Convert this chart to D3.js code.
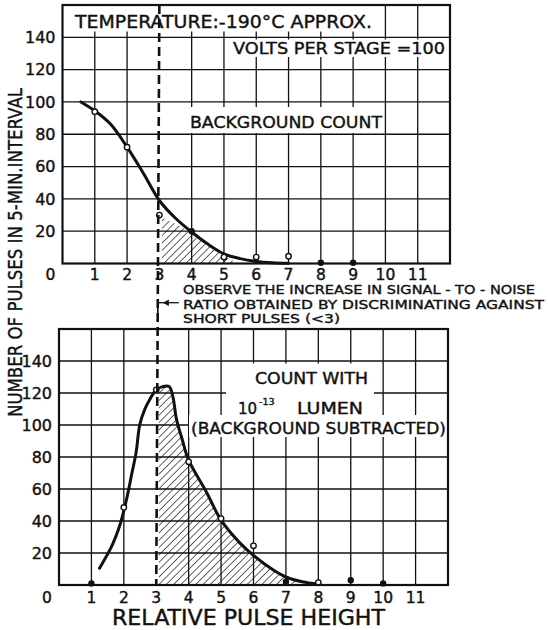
<!DOCTYPE html>
<html>
<head>
<meta charset="utf-8">
<script src="https://cdn.jsdelivr.net/npm/d3@7"></script>
<style>
  body { margin: 0; background: #fff; }
  svg text { font-family: "DejaVu Sans", sans-serif; fill: #111; stroke: #111; stroke-width: 0.4px; }
</style>
</head>
<body>
<div id="chart"></div>
<script>
// Tick values shared by both panels
const xTicks = [1, 2, 3, 4, 5, 6, 7, 8, 9, 10, 11];
const yTicks = [20, 40, 60, 80, 100, 120, 140];

// Upper panel: background count
const bgX = [1, 2, 3, 4, 5, 6, 7, 8, 9];
const bgY = [94, 72, 30, 20, 4, 4, 4.5, 0.5, 0.5];
const bgOpen = [1, 1, 1, 0, 1, 1, 1, 0, 0];
const bgCurveX = [0.57, 1, 1.5, 2, 2.5, 3, 3.5, 4, 4.5, 5, 5.5, 6, 6.5, 7];
const bgCurveY = [100, 94.5, 86, 72, 56, 39, 28, 19.5, 12, 6, 3, 1.3, 0.5, 0.2];
const bgHatchX = [3, 3.5, 4, 4.5, 5, 5.3, 5.5];
const bgHatchY = [29, 24.5, 19, 11, 5, 1.5, 0];

// Lower panel: count with 10^-13 lumen (background subtracted)
const lumX = [1, 2, 3, 4, 5, 6, 7, 8, 9, 10];
const lumY = [1, 48.5, 122, 77, 41.5, 24.5, 2, 1.5, 3, 1];
const lumOpen = [0, 1, 1, 1, 1, 1, 0, 1, 0, 0];
const lumCurveX = [1.25, 1.62, 1.83, 1.93, 2.1, 2.25, 2.38, 2.49, 2.65, 2.8, 3.0, 3.2, 3.4,
                   3.52, 3.62, 3.8, 4, 4.55, 5, 5.57, 6, 6.6, 7, 7.5, 8];
const lumCurveY = [10.5, 24, 34.5, 41, 55, 70, 83, 100, 110, 116, 122, 124, 124,
                   117, 104, 91, 78, 58, 40.5, 26.5, 18.5, 9.5, 5, 2, 0.5];
const lumHatchFrom = 3.08, lumHatchTo = 7.3;

const W = 548, H = 630;
const ink = "#111";

const svg = d3.select("#chart").append("svg")
    .attr("width", W).attr("height", H);

svg.append("rect").attr("width", W).attr("height", H).attr("fill", "#fff");

// hatch pattern
const defs = svg.append("defs");
defs.append("pattern")
    .attr("id", "hatch")
    .attr("patternUnits", "userSpaceOnUse")
    .attr("width", 5.2).attr("height", 5.2)
    .attr("patternTransform", "rotate(45)")
  .append("line")
    .attr("x1", 0).attr("y1", 0).attr("x2", 0).attr("y2", 5.2)
    .attr("stroke", ink).attr("stroke-width", 1.3);

function panel(opt) {
  const x = d3.scaleLinear().domain([0, 12]).range(opt.xr);
  const y = d3.scaleLinear().domain([0, 160]).range(opt.yr);
  const g = svg.append("g");

  // hatched area
  const clipId = "clip" + opt.id;
  defs.append("clipPath").attr("id", clipId).append("rect")
      .attr("x", x(opt.hatchFrom)).attr("y", y(160))
      .attr("width", x(opt.hatchTo) - x(opt.hatchFrom))
      .attr("height", y(0) - y(160));
  const area = d3.area()
      .x(d => x(d[0])).y0(y(0)).y1(d => y(d[1]))
      .curve(d3.curveCatmullRom.alpha(0.5));
  g.append("path")
      .datum(d3.zip(opt.hx, opt.hy))
      .attr("d", area)
      .attr("fill", "url(#hatch)")
      .attr("clip-path", `url(#${clipId})`);

  // grid
  g.append("g").selectAll("line")
    .data(xTicks.filter(v => v !== 3))
    .join("line")
      .attr("x1", d => x(d)).attr("x2", d => x(d))
      .attr("y1", y(160)).attr("y2", y(0))
      .attr("stroke", ink).attr("stroke-width", 1.3);
  g.append("g").selectAll("line")
    .data(yTicks)
    .join("line")
      .attr("x1", x(0)).attr("x2", x(12))
      .attr("y1", d => y(d)).attr("y2", d => y(d))
      .attr("stroke", ink).attr("stroke-width", 1.3);

  // text boxes painted over the grid
  opt.boxes.forEach(b => {
    g.append("rect")
      .attr("x", b[0]).attr("y", b[1]).attr("width", b[2] - b[0]).attr("height", b[3] - b[1])
      .attr("fill", "#fff");
  });

  // tick labels
  g.append("g").selectAll("text")
    .data(yTicks)
    .join("text")
      .attr("x", x(0) - 7).attr("y", d => y(d) + 5.8)
      .attr("text-anchor", "end")
      .attr("font-size", 16)
      .text(d => d);
  g.append("g").selectAll("text")
    .data(xTicks)
    .join("text")
      .attr("x", d => x(d)).attr("y", opt.xLabelY)
      .attr("text-anchor", "middle")
      .attr("font-size", 15.5)
      .text(d => d);
  g.append("text")
      .attr("x", x(0) - 12).attr("y", opt.xLabelY)
      .attr("text-anchor", "middle")
      .attr("font-size", 15.5)
      .text("0");

  // curve
  const line = d3.line()
      .x(d => x(d[0])).y(d => y(d[1]))
      .curve(d3.curveCatmullRom.alpha(0.5));
  g.append("path")
      .datum(d3.zip(opt.cx, opt.cy))
      .attr("d", line)
      .attr("fill", "none")
      .attr("stroke", ink)
      .attr("stroke-width", 3)
      .attr("stroke-linecap", "round");

  // points
  g.append("g").selectAll("circle")
    .data(d3.zip(opt.px, opt.py, opt.open))
    .join("circle")
      .attr("cx", d => x(d[0])).attr("cy", d => y(d[1]))
      .attr("r", d => d[2] ? 2.7 : 2.5)
      .attr("fill", d => d[2] ? "#fff" : ink)
      .attr("stroke", ink).attr("stroke-width", 1.4);

  // frame
  g.append("rect")
      .attr("x", x(0)).attr("y", y(160))
      .attr("width", x(12) - x(0)).attr("height", y(0) - y(160))
      .attr("fill", "none").attr("stroke", ink).attr("stroke-width", 2.2);

  return { x, y };
}

const upper = panel({
  id: "t", xr: [62.5, 450], yr: [263.5, 5],
  hx: bgHatchX, hy: bgHatchY, hatchFrom: 3.08, hatchTo: 5.6,
  cx: bgCurveX, cy: bgCurveY, px: bgX, py: bgY, open: bgOpen,
  xLabelY: 279.5,
  boxes: [[64, 6, 378, 31.5], [229, 39.5, 448, 57], [186, 107, 384, 133]]
});

const lower = panel({
  id: "b", xr: [59, 448], yr: [585, 329],
  hx: lumCurveX, hy: lumCurveY, hatchFrom: lumHatchFrom, hatchTo: lumHatchTo,
  cx: lumCurveX, cy: lumCurveY, px: lumX, py: lumY, open: lumOpen,
  xLabelY: 603,
  boxes: [[226, 363.5, 374, 396], [232, 396, 372, 415], [189, 415, 447, 437]]
});

// dashed discrimination line at pulse height 3, through both panels
svg.append("line")
    .attr("x1", upper.x(3)).attr("y1", upper.y(160))
    .attr("x2", lower.x(3)).attr("y2", lower.y(0))
    .attr("stroke", ink).attr("stroke-width", 2.6)
    .attr("stroke-dasharray", "9,5");

// arrow pointing at the dashed line
const ax = (upper.x(3) + lower.x(3)) / 2;
svg.append("line")
    .attr("x1", ax).attr("y1", 302.7).attr("x2", ax + 21).attr("y2", 302.7)
    .attr("stroke", ink).attr("stroke-width", 1.3);
svg.append("line")
    .attr("x1", ax).attr("y1", 302.7).attr("x2", ax).attr("y2", 313)
    .attr("stroke", ink).attr("stroke-width", 1.6);
svg.append("path")
    .attr("d", `M${ax + 5},302.7 L${ax + 11},299.5 L${ax + 11},305.9 Z`)
    .attr("fill", ink);

// texts
function label(t, x, y, size, len) {
  const el = svg.append("text").attr("x", x).attr("y", y)
      .attr("font-size", size).text(t);
  if (len) el.attr("textLength", len).attr("lengthAdjust", "spacingAndGlyphs");
  return el;
}

label("TEMPERATURE:-190°C APPROX.", 75, 28, 18, 297);
label("VOLTS PER STAGE =100", 233, 53.5, 16, 212);
label("BACKGROUND COUNT", 190, 127.5, 16.5, 192);

label("COUNT WITH", 255, 383.5, 15, 113);

// 10^-13 LUMEN as one text with a raised exponent
const lum = svg.append("text").attr("y", 413.5).attr("font-size", 15);
lum.append("tspan").attr("x", 238).text("10");
lum.append("tspan").attr("x", 259).attr("dy", -8.5).attr("font-size", 9.5).text("-13");
lum.append("tspan").attr("x", 297).attr("dy", 8.5)
    .attr("textLength", 66).attr("lengthAdjust", "spacingAndGlyphs").text("LUMEN");

label("(BACKGROUND SUBTRACTED)", 191, 433.5, 16.5, 255);

label("OBSERVE THE INCREASE IN SIGNAL - TO - NOISE", 183, 294, 13, 352);
label("RATIO OBTAINED BY DISCRIMINATING AGAINST", 183, 308.5, 13, 361);
label("SHORT PULSES (<3)", 183, 323, 13, 157);

label("RELATIVE PULSE HEIGHT", 112, 625, 20.5, 273);

svg.append("text")
    .attr("transform", "translate(21.5,252.5) rotate(-90)")
    .attr("text-anchor", "middle")
    .attr("font-size", 20)
    .attr("textLength", 329).attr("lengthAdjust", "spacingAndGlyphs")
    .text("NUMBER OF PULSES IN 5-MIN.INTERVAL");
</script>
</body>
</html>
